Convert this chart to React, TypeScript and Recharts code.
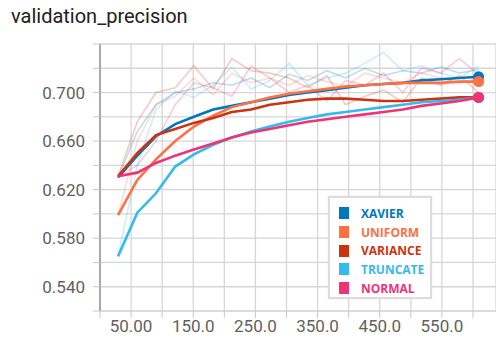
import React from "react"
import { LineChart, Line, XAxis, YAxis, CartesianGrid } from "recharts"

// training steps
const steps = [29, 60, 90, 121, 151, 182, 212, 243, 273, 304, 334, 365, 395, 426, 456, 487, 517, 548, 578, 609]

// smoothed values
const xavier = [0.630, 0.648, 0.664, 0.674, 0.680, 0.686, 0.689, 0.692, 0.695, 0.698, 0.700, 0.702, 0.704, 0.706, 0.707, 0.708, 0.710, 0.711, 0.712, 0.713]
const uniform = [0.599, 0.628, 0.645, 0.660, 0.672, 0.681, 0.688, 0.692, 0.696, 0.699, 0.701, 0.703, 0.705, 0.706, 0.707, 0.708, 0.708, 0.708, 0.709, 0.709]
const variance = [0.631, 0.650, 0.665, 0.670, 0.675, 0.679, 0.684, 0.686, 0.690, 0.692, 0.694, 0.695, 0.695, 0.694, 0.693, 0.693, 0.694, 0.695, 0.696, 0.696]
const truncate = [0.565, 0.601, 0.617, 0.639, 0.649, 0.657, 0.663, 0.668, 0.672, 0.676, 0.679, 0.682, 0.684, 0.686, 0.688, 0.690, 0.692, 0.693, 0.694, 0.696]
const normal = [0.631, 0.634, 0.642, 0.648, 0.653, 0.658, 0.663, 0.667, 0.670, 0.673, 0.676, 0.678, 0.680, 0.682, 0.684, 0.686, 0.689, 0.691, 0.693, 0.696]

// raw (unsmoothed) values, drawn faint
const xavierRaw = [0.630, 0.668, 0.690, 0.700, 0.703, 0.708, 0.706, 0.712, 0.704, 0.715, 0.710, 0.718, 0.712, 0.720, 0.714, 0.718, 0.716, 0.721, 0.716, 0.719]
const uniformRaw = [0.599, 0.660, 0.690, 0.697, 0.712, 0.698, 0.716, 0.708, 0.712, 0.706, 0.714, 0.709, 0.705, 0.716, 0.712, 0.708, 0.716, 0.712, 0.708, 0.712]
const varianceRaw = [0.631, 0.676, 0.700, 0.704, 0.722, 0.703, 0.728, 0.718, 0.716, 0.712, 0.704, 0.714, 0.690, 0.697, 0.702, 0.692, 0.712, 0.706, 0.714, 0.700]
const truncateRaw = [0.565, 0.640, 0.686, 0.701, 0.696, 0.706, 0.721, 0.703, 0.710, 0.724, 0.706, 0.712, 0.716, 0.724, 0.733, 0.718, 0.722, 0.716, 0.712, 0.722]
const normalRaw = [0.631, 0.640, 0.660, 0.690, 0.708, 0.704, 0.697, 0.722, 0.712, 0.700, 0.706, 0.693, 0.710, 0.706, 0.716, 0.700, 0.720, 0.716, 0.728, 0.715]

const xTicks = [0, 50, 100, 150, 200, 250, 300, 350, 400, 450, 500, 550, 600]
const yTicks = [0.52, 0.54, 0.56, 0.58, 0.6, 0.62, 0.64, 0.66, 0.68, 0.7, 0.72, 0.74]
const xLabels = [50, 150, 250, 350, 450, 550]
const yLabels = [0.54, 0.58, 0.62, 0.66, 0.7]

const series = [
  { key: "xavier", name: "XAVIER", color: "#0077bb", values: xavier, raw: xavierRaw },
  { key: "uniform", name: "UNIFORM", color: "#ff7043", values: uniform, raw: uniformRaw },
  { key: "variance", name: "VARIANCE", color: "#cc3311", values: variance, raw: varianceRaw },
  { key: "truncate", name: "TRUNCATE", color: "#33bbee", values: truncate, raw: truncateRaw },
  { key: "normal", name: "NORMAL", color: "#ee3377", values: normal, raw: normalRaw },
]

const data = steps.map((step, i) => {
  const row: Record<string, number> = { step }
  series.forEach((s) => {
    row[s.key] = s.values[i]
    row[s.key + "Raw"] = s.raw[i]
  })
  return row
})

const fontFamily = "Roboto, 'Noto Sans', sans-serif"

function LegendBox() {
  return (
    <div
      style={{
        position: "absolute",
        left: 328,
        top: 196,
        width: 104,
        height: 103,
        boxSizing: "border-box",
        border: "2px solid #dcdcdc",
        background: "#fff",
        padding: "6px 0 0 9px",
        boxShadow: "0 0 2px rgba(0,0,0,0.08)",
      }}
    >
      {series.map((s) => (
        <div key={s.key} style={{ display: "flex", alignItems: "center", height: 18.7 }}>
          <span style={{ width: 10, height: 12, background: s.color, marginRight: 12 }} />
          <span
            style={{
              color: s.color,
              fontFamily: "'Open Sans', sans-serif",
              fontWeight: 700,
              fontSize: 12,
            }}
          >
            {s.name}
          </span>
        </div>
      ))}
    </div>
  )
}

export default function App() {
  const lastIndex = steps.length - 1
  return (
    <div style={{ position: "fixed", left: 0, top: 0, width: 496, height: 347, background: "#fff" }}>
      <div
        style={{
          position: "absolute",
          left: 11,
          top: 4,
          fontFamily,
          fontSize: 20,
          color: "#212121",
        }}
      >
        validation_precision
      </div>
      <LineChart width={496} height={347} data={data} margin={{ top: 44, right: 0, bottom: 6, left: 0 }}>
        <CartesianGrid stroke="#d6d6d6" strokeWidth={1.3} />
        <XAxis
          dataKey="step"
          type="number"
          domain={[0, 637]}
          ticks={xTicks}
          interval={0}
          height={30}
          axisLine={{ stroke: "#d6d6d6" }}
          tickLine={{ stroke: "#c8c8c8" }}
          tickSize={7}
          tick={{ fill: "#616161", fontSize: 17, fontFamily }}
          tickFormatter={(v: number) => (xLabels.includes(v) ? v.toPrecision(4) : "")}
        />
        <YAxis
          type="number"
          domain={[0.52, 0.74]}
          ticks={yTicks}
          interval={0}
          width={100}
          axisLine={{ stroke: "#a8a8a8", strokeWidth: 2 }}
          tickLine={{ stroke: "#c8c8c8" }}
          tickSize={7}
          tickMargin={8}
          tick={{ fill: "#616161", fontSize: 17, fontFamily }}
          tickFormatter={(v: number) =>
            yLabels.some((l) => Math.abs(l - v) < 1e-6) ? v.toFixed(3) : ""
          }
        />
        {series.map((s) => (
          <Line
            key={s.key + "Raw"}
            dataKey={s.key + "Raw"}
            type="linear"
            stroke={s.color}
            strokeOpacity={0.25}
            strokeWidth={1.6}
            dot={false}
            activeDot={false}
            isAnimationActive={false}
            legendType="none"
          />
        ))}
        {series.map((s) => (
          <Line
            key={s.key}
            dataKey={s.key}
            name={s.name}
            type="linear"
            stroke={s.color}
            strokeWidth={2.6}
            activeDot={false}
            isAnimationActive={false}
            dot={(p: any) =>
              p.index === lastIndex ? (
                <circle key={`dot-${s.key}`} cx={p.cx} cy={p.cy} r={5.5} fill={s.color} stroke="none" />
              ) : (
                <g key={`dot-${s.key}-${p.index}`} />
              )
            }
          />
        ))}
      </LineChart>
      <LegendBox />
    </div>
  )
}
